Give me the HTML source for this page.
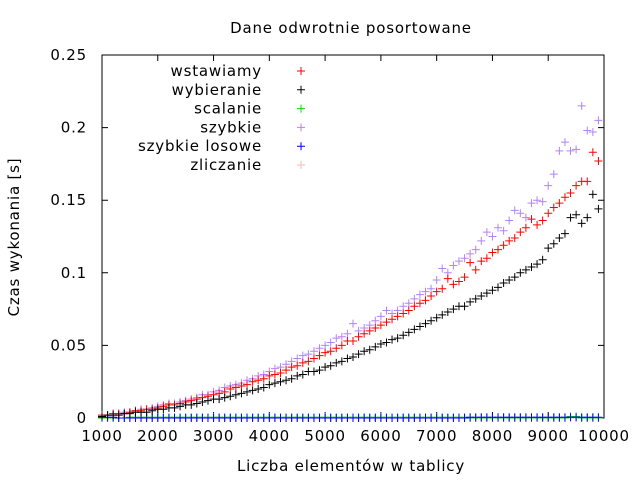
<!DOCTYPE html>
<html><head><meta charset="utf-8"><style>
body{margin:0;background:#fff}
text{font-family:"DejaVu Sans","Liberation Sans",sans-serif;font-size:15px;letter-spacing:0.8px;fill:#000}
</style></head><body>
<svg id="chart" width="640" height="480" xmlns="http://www.w3.org/2000/svg">
<rect width="640" height="480" fill="#fff"/>
<text x="351" y="33" text-anchor="middle">Dane odwrotnie posortowane</text>
<text transform="translate(19,237) rotate(-90)" text-anchor="middle">Czas wykonania [s]</text>
<text x="351" y="471" text-anchor="middle">Liczba elementów w tablicy</text>
<g id="axes"></g><g id="marks"></g><g id="legend"></g>
</svg>
<script>
const xTicks=[1000,2000,3000,4000,5000,6000,7000,8000,9000,10000];
const yTicks=[0,0.05,0.1,0.15,0.2,0.25];
const yTickLabels=["0","0.05","0.1","0.15","0.2","0.25"];
const seriesNames=["wstawiamy","wybieranie","scalanie","szybkie","szybkie losowe","zliczanie"];
const seriesColors=["#ff0000","#000000","#00dd00","#b383f5","#0000ff","#f5b8b8"];
const wstawiamy=[.002,.002,.003,.003,.003,.004,.005,.005,.006,.006,.007,.008,.009,.009,.010,.011,.012,.013,.014,.015,.016,.017,.018,.020,.021,.022,.023,.025,.026,.027,.029,.030,.031,.033,.035,.036,.038,.039,.041,.043,.045,.046,.048,.050,.053,.053,.056,.058,.060,.062,.064,.066,.068,.070,.072,.074,.077,.079,.081,.084,.087,.089,.096,.092,.094,.097,.107,.102,.108,.110,.114,.116,.119,.122,.124,.128,.131,.137,.133,.136,.141,.145,.148,.152,.155,.160,.163,.163,.183,.177];
const wybieranie=[.001,.002,.002,.002,.003,.003,.004,.004,.004,.005,.006,.006,.007,.007,.008,.009,.009,.010,.011,.012,.013,.013,.014,.015,.016,.017,.018,.019,.020,.021,.023,.024,.025,.026,.027,.029,.030,.032,.032,.033,.035,.036,.038,.039,.041,.042,.044,.046,.047,.049,.051,.052,.054,.055,.057,.059,.061,.063,.065,.067,.069,.071,.073,.075,.077,.077,.080,.082,.084,.086,.088,.090,.093,.095,.097,.100,.102,.104,.106,.109,.117,.120,.124,.127,.138,.140,.134,.138,.154,.144];
const szybkie=[.002,.002,.003,.003,.004,.004,.005,.006,.006,.007,.008,.009,.010,.010,.011,.012,.013,.014,.016,.016,.018,.019,.021,.022,.023,.024,.026,.027,.029,.030,.032,.034,.035,.037,.039,.041,.043,.044,.046,.048,.050,.052,.055,.056,.058,.065,.060,.062,.064,.067,.070,.074,.072,.074,.077,.079,.082,.085,.087,.089,.095,.103,.100,.105,.108,.110,.113,.116,.122,.128,.125,.131,.129,.136,.143,.141,.138,.148,.150,.149,.160,.168,.184,.190,.184,.185,.215,.198,.197,.205];
const scalanie=[0,0,0,0,0,.0005,.0005,.0005,.0005,.0005,.0005,.0005,.0005,.0005,.0005,.0005,.0005,.0005,.0005,.0005,.0005,.0005,.0005,.0005,.0005,.0005,.0005,.0005,.0005,.0005,.0005,.0005,.0005,.0005,.0005,.0005,.0005,.0005,.0005,.0005,.0005,.0005,.0005,.0005,.0005,.0005,.0005,.0005,.0005,.0005,.0005,.0005,.0005,.0005,.0005,.0005,.0005,.0005,.0005,.0005,.0005,.0005,.0005,.0005,.0005,.0005,0,0,0,0,0,0,0,0,0,0,0,0,0,0,0,0,0,0,.001,.001,0,0,0,0];
const szybkieLosowe=[.0005,.0005,.0005,0,0,0,0,0,0,0,0,0,0,0,0,0,0,0,0,0,0,0,0,0,0,0,0,0,0,0,0,0,0,0,0,0,0,0,0,0,0,0,0,0,0,0,0,0,0,0,0,0,0,0,0,0,0,0,0,0,0,0,0,0,0,0,.0005,.0005,.0005,.0005,.0005,.0005,.0005,.0005,.0005,.0005,.0005,.0005,.0005,.0005,.0005,.0005,.0005,.0005,.0005,.0005,.0005,.0005,.0005,.0005];
const zliczanie=[0,0,0,0,0,0,0,0,0,0,0,0,0,0,0,0,0,0,0,0,0,0,0,0,0,0,0,0,0,0,0,0,0,0,0,0,0,0,0,0,0,0,0,0,0,0,0,0,0,0,0,0,0,0,0,0,0,0,0,0,0,0,0,0,0,0,0,0,0,0,0,0,0,0,0,0,0,0,0,0,0,0,0,0,0,0,0,0,0,0];
const xStart=1000, xStep=100;

const NS="http://www.w3.org/2000/svg";
const L=102,R=604,T=55,B=418;
const xs=v=>L+(v-1000)/9000*(R-L);
const ys=v=>B-v/0.25*(B-T);
function mk(tag,attrs,parent){const e=document.createElementNS(NS,tag);for(const k in attrs)e.setAttribute(k,attrs[k]);parent.appendChild(e);return e;}
const axes=document.getElementById('axes');
xTicks.forEach(t=>{
  const x=xs(t);
  const p=mk('path',{d:`M${x},${B}v-6M${x},${T}v6`,stroke:'#000'},axes);
  
  
  const tx=mk('text',{x:x,y:B+23,'text-anchor':'middle'},axes);tx.textContent=t;
  
  
});
yTicks.forEach((t,i)=>{
  const y=ys(t);
  const p=mk('path',{d:`M${L},${y}h6M${R},${y}h-6`,stroke:'#000'},axes);
  
  
  const tx=mk('text',{x:L-15,y:y+5,'text-anchor':'end'},axes);tx.textContent=yTickLabels[i];
  
  
});
const series=[wstawiamy,wybieranie,scalanie,szybkie,szybkieLosowe,zliczanie];
const marks=document.getElementById('marks');
const order=[5,2,4,3,0,1];
function plus(x,y,c,parent){return mk('path',{d:`M${x-4},${y}h8M${x},${y-4}v8`,stroke:c,'stroke-width':1},parent);}
order.forEach(si=>{
  const g=mk('g',{},marks);
  
  
  series[si].forEach((v,i)=>{
    const n=xStart+i*xStep; if(n>10000)return;
    const p=plus(xs(n),ys(v),seriesColors[si],g);
    
    
  });
});
const frame=mk('rect',{x:L,y:T,width:R-L,height:B-T,fill:'none',stroke:'#000','stroke-width':1},axes);


const lg=document.getElementById('legend');
seriesNames.forEach((n,i)=>{
  const y=71+i*18.8;
  const g=mk('g',{},lg);
  
  
  const t=mk('text',{x:262,y:y+5,'text-anchor':'end'},g);t.textContent=n;
  plus(301,y,seriesColors[i],g);
});
</script>
</body></html>
